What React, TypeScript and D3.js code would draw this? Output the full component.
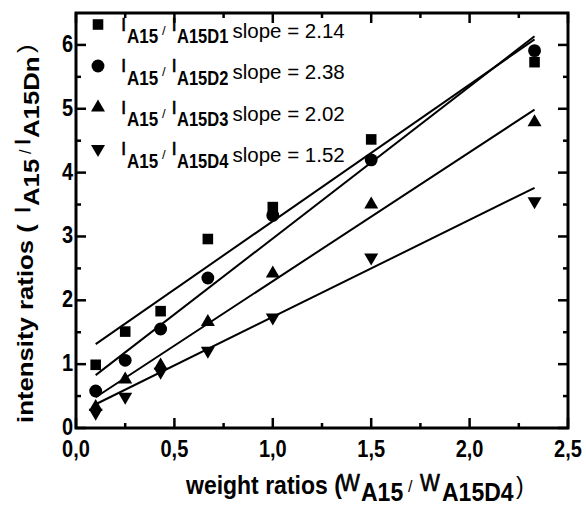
import React from "react";
import * as d3 from "d3";

// ---- data ----
const xValues = [0.1, 0.25, 0.43, 0.67, 1.0, 1.5, 2.33];
const seriesD1 = [0.99, 1.51, 1.83, 2.96, 3.46, 4.52, 5.73];
const seriesD2 = [0.58, 1.06, 1.55, 2.35, 3.33, 4.2, 5.91];
const seriesD3 = [0.33, 0.76, 0.98, 1.66, 2.42, 3.5, 4.79];
const seriesD4 = [0.24, 0.49, 0.88, 1.21, 1.73, 2.67, 3.55];
const seriesLabels = ["A15D1", "A15D2", "A15D3", "A15D4"];
const slopes = [2.14, 2.38, 2.02, 1.52];
const intercepts = [1.1, 0.59, 0.28, 0.22];
const fitRange = [0.1, 2.33];
const xTicks = [0, 0.5, 1, 1.5, 2, 2.5];
const xTickLabels = ["0,0", "0,5", "1,0", "1,5", "2,0", "2,5"];
const xMinorTicks = [0.25, 0.75, 1.25, 1.75, 2.25];
const yTicks = [0, 1, 2, 3, 4, 5, 6];
const yMinorTicks = [0.5, 1.5, 2.5, 3.5, 4.5, 5.5];
const markerTypes = ["square", "circle", "triangleUp", "triangleDown"];

const allSeries = [seriesD1, seriesD2, seriesD3, seriesD4];

const W = 586;
const H = 512;
const LEFT = 76;
const RIGHT = 568;
const TOP = 13;
const BOTTOM = 428;
const FONT = "'Liberation Sans', Arial, Helvetica, sans-serif";

const x = d3.scaleLinear().domain([0, 2.5]).range([LEFT, RIGHT]);
const y = d3.scaleLinear().domain([0, 6.5]).range([BOTTOM, TOP]);

function markerPath(type: string): string {
  if (type === "square") return d3.symbol(d3.symbolSquare, 112)() as string;
  if (type === "circle") return d3.symbol(d3.symbolCircle, 130)() as string;
  const w = 14;
  const h = 12;
  const p = d3.path();
  if (type === "triangleUp") {
    p.moveTo(0, (-h * 2) / 3);
    p.lineTo(w / 2, h / 3);
    p.lineTo(-w / 2, h / 3);
  } else {
    p.moveTo(0, (h * 2) / 3);
    p.lineTo(w / 2, -h / 3);
    p.lineTo(-w / 2, -h / 3);
  }
  p.closePath();
  return p.toString();
}

// a horizontal text piece, optionally stretched vertically about its baseline
function Piece(props: {
  x: number;
  y: number;
  size: number;
  bold?: boolean;
  sy?: number;
  thick?: number;
  anchor?: string;
  children: React.ReactNode;
}) {
  const sy = props.sy ?? 1;
  return (
    <g transform={`translate(${props.x},${props.y}) scale(1,${sy})`}>
      <text
        x={0}
        y={0}
        fontSize={props.size}
        fontWeight={props.bold ? "bold" : "normal"}
        textAnchor={props.anchor ?? "start"}
        stroke={props.thick ? "#000" : "none"}
        strokeWidth={props.thick ?? 0}
      >
        {props.children}
      </text>
    </g>
  );
}

// a vertical (rotated -90) text piece; ys = screen y where the text starts
function VPiece(props: {
  xb: number;
  ys: number;
  size: number;
  bold?: boolean;
  stretch?: number;
  thick?: number;
  children: React.ReactNode;
}) {
  const st = props.stretch ?? 1;
  return (
    <g transform={`translate(${props.xb},${props.ys}) rotate(-90) scale(${st},1)`}>
      <text
        x={0}
        y={0}
        fontSize={props.size}
        fontWeight={props.bold ? "bold" : "normal"}
        stroke={props.thick ? "#000" : "none"}
        strokeWidth={props.thick ?? 0}
      >
        {props.children}
      </text>
    </g>
  );
}

export default function App() {
  const legendY0 = 24.5;
  const legendStep = 41.5;
  const XB = 494; // x title baseline
  const YB = 33; // y title baseline (screen x)

  return (
    <svg
      width={W}
      height={H}
      style={{ position: "absolute", left: 0, top: 0, background: "#fff" }}
      fontFamily={FONT}
    >
      <rect x={0} y={0} width={W} height={H} fill="#fff" />

      {/* fit lines */}
      {slopes.map((s, i) => {
        const gen = d3
          .line<number>()
          .x((d) => x(d))
          .y((d) => y(intercepts[i] + s * d));
        return (
          <path
            key={"fit" + i}
            d={gen(fitRange) as string}
            fill="none"
            stroke="#000"
            strokeWidth={2}
          />
        );
      })}

      {/* data markers */}
      {allSeries.map((vals, si) =>
        vals.map((v, j) => (
          <path
            key={"m" + si + "-" + j}
            d={markerPath(markerTypes[si])}
            transform={`translate(${x(xValues[j])},${y(v)})`}
            fill="#000"
          />
        ))
      )}

      {/* frame */}
      <rect
        x={LEFT}
        y={TOP}
        width={RIGHT - LEFT}
        height={BOTTOM - TOP}
        fill="none"
        stroke="#000"
        strokeWidth={3}
      />

      {/* ticks (inward, mirrored) */}
      {xTicks.map((t) => (
        <g key={"xt" + t}>
          <line x1={x(t)} x2={x(t)} y1={BOTTOM} y2={BOTTOM - 10} stroke="#000" strokeWidth={2.5} />
          <line x1={x(t)} x2={x(t)} y1={TOP} y2={TOP + 10} stroke="#000" strokeWidth={2.5} />
        </g>
      ))}
      {xMinorTicks.map((t) => (
        <g key={"xm" + t}>
          <line x1={x(t)} x2={x(t)} y1={BOTTOM} y2={BOTTOM - 5} stroke="#000" strokeWidth={2.5} />
          <line x1={x(t)} x2={x(t)} y1={TOP} y2={TOP + 5} stroke="#000" strokeWidth={2.5} />
        </g>
      ))}
      {yTicks.map((t) => (
        <g key={"yt" + t}>
          <line x1={LEFT} x2={LEFT + 10} y1={y(t)} y2={y(t)} stroke="#000" strokeWidth={2.5} />
          <line x1={RIGHT} x2={RIGHT - 10} y1={y(t)} y2={y(t)} stroke="#000" strokeWidth={2.5} />
        </g>
      ))}
      {yMinorTicks.map((t) => (
        <g key={"ym" + t}>
          <line x1={LEFT} x2={LEFT + 5} y1={y(t)} y2={y(t)} stroke="#000" strokeWidth={2.5} />
          <line x1={RIGHT} x2={RIGHT - 5} y1={y(t)} y2={y(t)} stroke="#000" strokeWidth={2.5} />
        </g>
      ))}

      {/* tick labels */}
      {xTicks.map((t, i) => (
        <Piece key={"xl" + t} x={x(t)} y={456.5} size={20} bold sy={1.17} anchor="middle">
          {xTickLabels[i]}
        </Piece>
      ))}
      {yTicks.map((t) => (
        <Piece key={"yl" + t} x={73} y={y(t) + 7} size={20} bold sy={1.15} anchor="end">
          {String(t)}
        </Piece>
      ))}

      {/* x axis title */}
      <Piece x={186} y={XB} size={23} bold sy={1.15}>weight ratios (</Piece>
      <Piece x={340} y={XB - 3.5} size={21} sy={1.1} thick={0.6}>W</Piece>
      <Piece x={361} y={XB + 7} size={23} bold sy={1.15}>A15</Piece>
      <Piece x={408} y={XB - 2} size={16}>/</Piece>
      <Piece x={420} y={XB - 3.5} size={21} sy={1.1} thick={0.6}>W</Piece>
      <Piece x={442} y={XB + 7} size={23} bold sy={1.15}>A15D4</Piece>
      <Piece x={516} y={XB} size={23}>)</Piece>

      {/* y axis title (reads bottom to top) */}
      <VPiece xb={YB} ys={423} size={23} bold stretch={1.12}>intensity ratios (</VPiece>
      <VPiece xb={YB - 3} ys={213} size={22} thick={0.6}>I</VPiece>
      <VPiece xb={YB + 6} ys={206} size={23} bold stretch={1.12}>A15</VPiece>
      <VPiece xb={YB - 2} ys={154} size={16}>/</VPiece>
      <VPiece xb={YB - 3} ys={145} size={22} thick={0.6}>I</VPiece>
      <VPiece xb={YB + 6} ys={138} size={23} bold stretch={1.12}>A15Dn</VPiece>
      <VPiece xb={YB} ys={53} size={23} stretch={1.12}>)</VPiece>

      {/* legend */}
      {seriesLabels.map((lab, i) => {
        const my = legendY0 + legendStep * i;
        const B = my + 13;
        return (
          <g key={"lg" + i}>
            <path d={markerPath(markerTypes[i])} transform={`translate(98,${my})`} fill="#000" />
            <Piece x={121} y={B - 7} size={19} thick={0.5}>I</Piece>
            <Piece x={127} y={B + 5.5} size={17} bold sy={1.2}>A15</Piece>
            <Piece x={162} y={B - 3} size={13}>/</Piece>
            <Piece x={171.5} y={B - 7} size={19} thick={0.5}>I</Piece>
            <Piece x={177} y={B + 5.5} size={16.5} bold sy={1.2}>{lab}</Piece>
            <Piece x={232.5} y={B} size={20.5}>{"slope = " + slopes[i].toFixed(2)}</Piece>
          </g>
        );
      })}
    </svg>
  );
}
